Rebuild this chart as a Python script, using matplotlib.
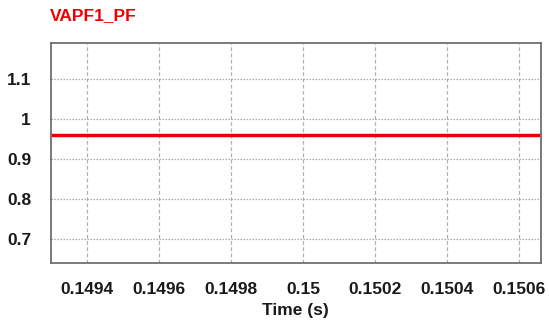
import numpy as np
import matplotlib.pyplot as plt

plt.rcParams['font.family'] = ['Liberation Sans Narrow', 'Liberation Sans', 'DejaVu Sans']

# power factor trace
time = [0.1493, 0.15066]
pf = [0.96, 0.96]
xticks = [0.1494, 0.1496, 0.1498, 0.15, 0.1502, 0.1504, 0.1506]
xticklabels = ['0.1494', '0.1496', '0.1498', '0.15', '0.1502', '0.1504', '0.1506']
yticks = [0.7, 0.8, 0.9, 1.0, 1.1]
yticklabels = ['0.7', '0.8', '0.9', '1', '1.1']

fig = plt.figure(figsize=(5.49, 3.25), dpi=100)
ax = fig.add_axes([50.5/549, 1 - 263/325, (541 - 50.5)/549, (263 - 43)/325])

ax.plot(time, pf, color='#ee0000', lw=2.5)
ax.set_xlim(0.1493, 0.15066)
ax.set_ylim(0.64, 1.19)

ax.set_xticks(xticks)
ax.set_xticklabels(xticklabels)
ax.set_yticks(yticks)
ax.set_yticklabels(yticklabels)
ax.tick_params(length=0, labelsize=12.5, pad=14, labelcolor='#1a1a1a')
for lab in ax.get_xticklabels() + ax.get_yticklabels():
    lab.set_fontweight('bold')

ax.xaxis.grid(True, color='#b0b0b0', ls=(0, (3, 2)), lw=0.9)
ax.yaxis.grid(True, color='#a8a8a8', ls=(0, (1.2, 1.2)), lw=0.9)
for s in ax.spines.values():
    s.set_color('#707070')
    s.set_linewidth(1.3)

ax.set_xlabel('Time (s)', fontsize=12.5, fontweight='bold', labelpad=4, color='#1a1a1a')
fig.text(50/549, 1 - 16/325, 'VAPF1_PF', color='#ee0000', fontsize=12.5,
         fontweight='bold', va='center', ha='left')

fig.savefig('out.png', dpi=100)
